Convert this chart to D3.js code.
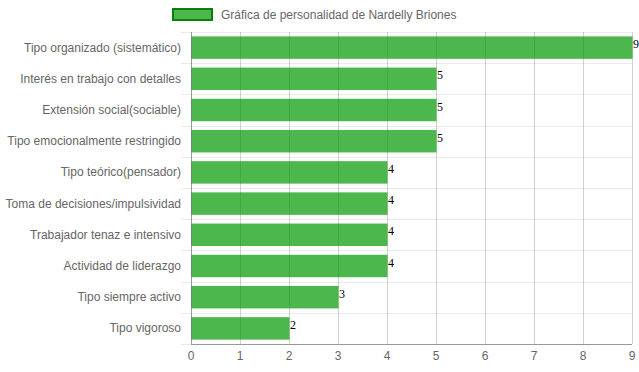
<!DOCTYPE html>
<html>
<head>
<meta charset="utf-8">
<script src="https://cdn.jsdelivr.net/npm/d3@7"></script>
<style>
  body { margin: 0; background: #fff; }
  svg { display: block; }
</style>
</head>
<body>
<script>
// data
const categories = [
  'Tipo organizado (sistemático)',
  'Interés en trabajo con detalles',
  'Extensión social(sociable)',
  'Tipo emocionalmente restringido',
  'Tipo teórico(pensador)',
  'Toma de decisiones/impulsividad',
  'Trabajador tenaz e intensivo',
  'Actividad de liderazgo',
  'Tipo siempre activo',
  'Tipo vigoroso'
];
const values = [9, 5, 5, 5, 4, 4, 4, 4, 3, 2];
const xTicks = [0, 1, 2, 3, 4, 5, 6, 7, 8, 9];
const seriesName = 'Gráfica de personalidad de Nardelly Briones';

let width = 639,
    height = 372,
    plotL = 191, plotR = 632, plotT = 32, plotB = 344;

let font = '"Liberation Sans", Arial, Helvetica, sans-serif';

let xScale = d3.scaleLinear([0, 9], [plotL, plotR]),
    yScale = d3.scaleBand(categories, [plotT, plotB]),
    barH = yScale.bandwidth() * 0.72;

let svg = d3.select('body').append('svg').attr('width', width).attr('height', height);

// horizontal grid (between categories), with ticks into label area
let hLines = d3.range(categories.length + 1).map(i => plotT + i * yScale.step());
svg.append('g').selectAll('line')
    .data(hLines)
    .join('line')
    .attr('x1', plotL - 10)
    .attr('x2', plotR)
    .attr('y1', d => Math.round(d) + 0.5)
    .attr('y2', d => Math.round(d) + 0.5)
    .style('stroke', 'rgba(0,0,0,0.08)')
    .style('stroke-width', '1px');

// vertical grid
svg.append('g').selectAll('line')
    .data(xTicks)
    .join('line')
    .attr('x1', d => Math.round(xScale(d)) + 0.5)
    .attr('x2', d => Math.round(xScale(d)) + 0.5)
    .attr('y1', plotT)
    .attr('y2', plotB)
    .style('stroke', 'rgba(0,0,0,0.18)')
    .style('stroke-width', '1px');

// bars
svg.append('g').selectAll('rect')
    .data(d3.zip(categories, values))
    .join('rect')
    .attr('x', xScale(0) + 0.5)
    .attr('y', d => yScale(d[0]) + (yScale.bandwidth() - barH) / 2)
    .attr('width', d => xScale(d[1]) - xScale(0))
    .attr('height', barH)
    .style('fill', 'rgba(0,153,0,0.7)');

// value labels
svg.append('g').selectAll('text')
    .data(d3.zip(categories, values))
    .join('text')
    .attr('x', d => xScale(d[1]) + 1)
    .attr('y', d => yScale(d[0]) + yScale.bandwidth() / 2 + 0.5)
    .text(d => d[1])
    .style('font-family', '"Liberation Serif", "Times New Roman", serif')
    .style('font-size', '12px')
    .style('fill', '#000');

// axis lines
svg.append('line')
    .attr('x1', plotL).attr('x2', plotR)
    .attr('y1', plotB + 0.5).attr('y2', plotB + 0.5)
    .style('stroke', 'rgba(0,0,0,0.35)');
svg.append('line')
    .attr('x1', plotL + 0.5).attr('x2', plotL + 0.5)
    .attr('y1', plotT).attr('y2', plotB)
    .style('stroke', 'rgba(0,0,0,0.25)');

// tick labels
svg.append('g').selectAll('text')
    .data(xTicks)
    .join('text')
    .attr('x', d => xScale(d))
    .attr('y', 360)
    .attr('text-anchor', 'middle')
    .text(d => d)
    .style('font-family', font)
    .style('font-size', '12px')
    .style('fill', '#666');

svg.append('g').selectAll('text')
    .data(categories)
    .join('text')
    .attr('x', 181)
    .attr('y', d => yScale(d) + yScale.bandwidth() / 2 + 4)
    .attr('text-anchor', 'end')
    .text(d => d)
    .style('font-family', font)
    .style('font-size', '12px')
    .style('fill', '#666');

// legend
let legend = svg.append('g');
legend.append('rect')
    .attr('x', 173).attr('y', 9)
    .attr('width', 39).attr('height', 11)
    .style('fill', 'rgba(0,153,0,0.7)')
    .style('stroke', '#0a800a')
    .style('stroke-width', '2px');
legend.append('text')
    .attr('x', 221).attr('y', 18.5)
    .text(seriesName)
    .style('font-family', font)
    .style('font-size', '12px')
    .style('fill', '#666');
</script>
</body>
</html>
